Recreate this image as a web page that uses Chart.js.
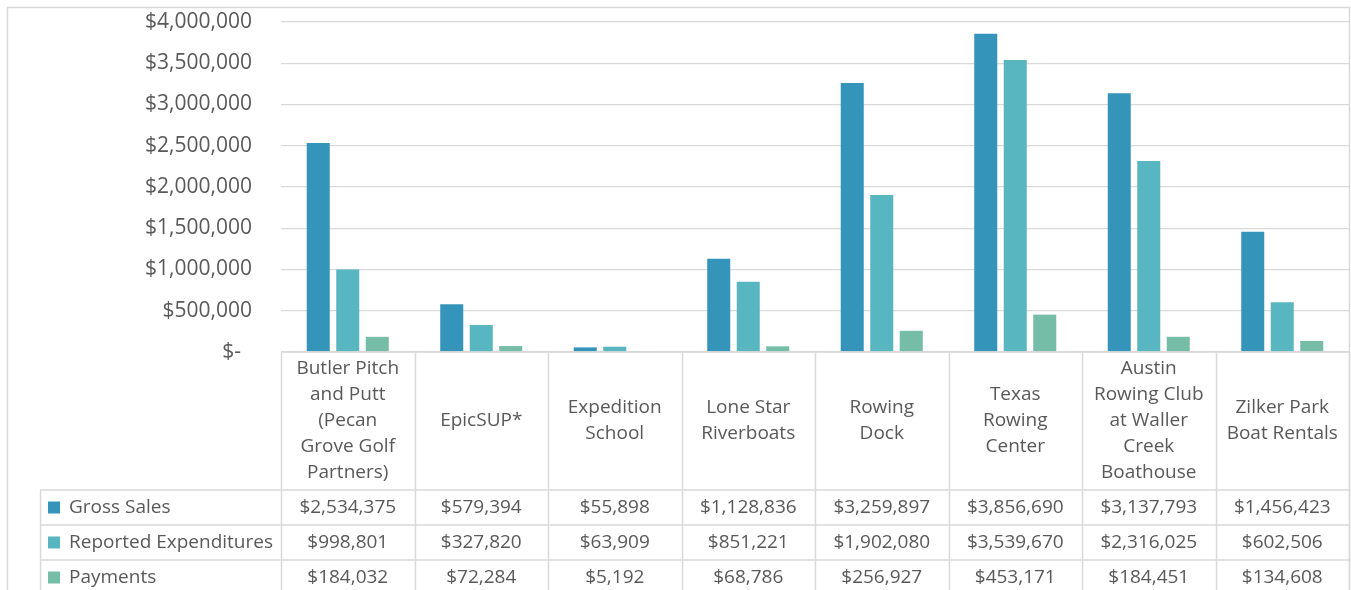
<!DOCTYPE html>
<html>
<head>
<meta charset="utf-8">
<script src="https://cdn.jsdelivr.net/npm/chart.js@4/dist/chart.umd.min.js"></script>
<style>
  html, body { margin: 0; padding: 0; background: #ffffff; }
  #wrap { width: 1351px; height: 590px; position: relative; }
</style>
</head>
<body>
<div id="wrap"><canvas id="c" width="1351" height="590"></canvas></div>
<script>
const categories = [
  ["Butler Pitch", "and Putt", "(Pecan", "Grove Golf", "Partners)"],
  ["EpicSUP*"],
  ["Expedition", "School"],
  ["Lone Star", "Riverboats"],
  ["Rowing", "Dock"],
  ["Texas", "Rowing", "Center"],
  ["Austin", "Rowing Club", "at Waller", "Creek", "Boathouse"],
  ["Zilker Park", "Boat Rentals"]
];
const seriesNames = ["Gross Sales", "Reported Expenditures", "Payments"];
const grossSales = [2534375, 579394, 55898, 1128836, 3259897, 3856690, 3137793, 1456423];
const reportedExpenditures = [998801, 327820, 63909, 851221, 1902080, 3539670, 2316025, 602506];
const payments = [184032, 72284, 5192, 68786, 256927, 453171, 184451, 134608];
const yMax = 4000000;
const yStep = 500000;
const seriesColors = ["#3494BA", "#58B6C0", "#75BDA7"];

const TEXT = "#595959";
const LINE = "#D9D9D9";
const FONT = "'Open Sans', sans-serif";

function money(v) { return "$" + Number(v).toLocaleString("en-US"); }

const allSeries = [grossSales, reportedExpenditures, payments];

const tablePlugin = {
  id: "tablePlugin",
  afterDraw(chart) {
    const ctx = chart.ctx;
    const area = chart.chartArea;
    const xs = chart.scales.x;
    const n = categories.length;
    const colW = (area.right - area.left) / n;
    const headTop = area.bottom;
    const headBottom = 490;
    const rowH = 35;
    const tableBottom = 600;
    const legendLeft = 40;
    ctx.save();
    // outer border
    ctx.strokeStyle = LINE;
    ctx.lineWidth = 1.5;
    ctx.beginPath();
    ctx.moveTo(7.5, 600); ctx.lineTo(7.5, 7.5); ctx.lineTo(1349.5, 7.5); ctx.lineTo(1349.5, 600);
    ctx.stroke();
    // table lines
    ctx.beginPath();
    ctx.moveTo(area.left, headTop); ctx.lineTo(area.right, headTop);
    for (let r = 0; r < 3; r++) {
      const y = headBottom + r * rowH;
      ctx.moveTo(legendLeft, y); ctx.lineTo(area.right, y);
    }
    for (let i = 0; i <= n; i++) {
      const x = Math.round(xs.getPixelForValue(Math.min(i, n - 1)) + (i === n ? colW / 2 : -colW / 2)) + 0.5;
      ctx.moveTo(x, headTop); ctx.lineTo(x, tableBottom);
    }
    ctx.moveTo(legendLeft + 0.5, headBottom); ctx.lineTo(legendLeft + 0.5, tableBottom);
    ctx.stroke();
    // header text
    ctx.fillStyle = TEXT;
    ctx.font = "19px " + FONT;
    ctx.textAlign = "center";
    ctx.textBaseline = "middle";
    const lineH = 26;
    const headMid = (headTop + headBottom) / 2;
    categories.forEach((lines, i) => {
      const cx = xs.getPixelForValue(i);
      const start = headMid - (lines.length - 1) * lineH / 2;
      lines.forEach((t, k) => ctx.fillText(t, cx, start + k * lineH));
    });
    // rows
    allSeries.forEach((vals, r) => {
      const cy = headBottom + r * rowH + rowH / 2;
      ctx.fillStyle = seriesColors[r];
      ctx.fillRect(48, cy - 6, 12, 12);
      ctx.fillStyle = TEXT;
      ctx.textAlign = "left";
      ctx.fillText(seriesNames[r], 69, cy);
      ctx.textAlign = "center";
      vals.forEach((v, i) => ctx.fillText(money(v), xs.getPixelForValue(i), cy));
    });
    ctx.restore();
  }
};

new Chart(document.getElementById("c"), {
  type: "bar",
  data: {
    labels: categories.map(c => c.join(" ")),
    datasets: seriesNames.map((name, i) => ({
      label: name,
      data: allSeries[i],
      backgroundColor: seriesColors[i],
      borderWidth: 0,
      categoryPercentage: 0.663,
      barPercentage: 0.78
    }))
  },
  options: {
    responsive: false,
    animation: false,
    layout: { padding: { left: 0, top: 22, right: 2, bottom: 238 } },
    plugins: { legend: { display: false }, tooltip: { enabled: false } },
    scales: {
      x: { display: false },
      y: {
        min: 0,
        max: yMax,
        afterFit(s) { s.width = 281; s.paddingTop = 0; s.paddingBottom = 0; },
        border: { display: false },
        grid: { color: LINE, lineWidth: 1.3, drawTicks: false },
        ticks: {
          stepSize: yStep,
          padding: 29,
          color: TEXT,
          font: { family: FONT, size: 21 },
          callback: v => v === 0 ? "$-  " : money(v)
        }
      }
    }
  },
  plugins: [tablePlugin]
});
</script>
</body>
</html>
